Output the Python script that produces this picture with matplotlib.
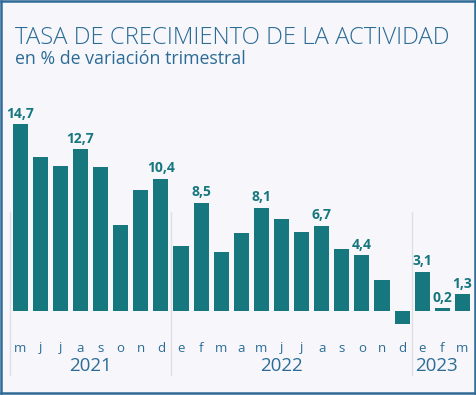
import matplotlib
matplotlib.use("Agg")
import matplotlib.pyplot as plt
from matplotlib.lines import Line2D

months = ["m", "j", "j", "a", "s", "o", "n", "d",
          "e", "f", "m", "a", "m", "j", "j", "a", "s", "o", "n", "d",
          "e", "f", "m"]
values = [14.7, 12.1, 11.4, 12.7, 11.3, 6.8, 9.5, 10.4,
          5.1, 8.5, 4.6, 6.1, 8.1, 7.2, 6.2, 6.7, 4.9, 4.4, 2.4, -1.0,
          3.1, 0.2, 1.3]
labeled = [0, 3, 7, 9, 12, 15, 17, 20, 21, 22]
years = ["2021", "2022", "2023"]
year_pos = [3.5, 13.0, 20.7]
separators = [-0.5, 7.5, 19.5]

BAR = "#16777f"
BLUE = "#2b6c96"
BG = "#f6f6fb"
FONT = ["Open Sans", "DejaVu Sans"]

W, H = 477, 395
fig = plt.figure(figsize=(W / 100, H / 100), dpi=100)
fig.patch.set_facecolor(BG)
ax = fig.add_axes([0, 0, 1, 1])
ax.set_facecolor("none")
ax.set_xlim(-1.005, 22.726)
ax.set_ylim(-6.604, 24.45)
ax.axis("off")

x = list(range(len(values)))
ax.bar(x, values, width=0.75, color=BAR, zorder=3)

for i in labeled:
    v = values[i]
    ax.annotate(f"{v:.1f}".replace(".", ","), (i, max(v, 0)),
                xytext=(0, 2.5), textcoords="offset points",
                ha="center", va="bottom", fontsize=10, fontweight="bold",
                color=BAR, family=FONT)

for s in separators:
    ax.axvline(s, ymin=1 - 375 / H, ymax=1 - 212 / H, color="#dedee4", lw=1, zorder=1)

trans = ax.get_xaxis_transform()
for i, m in enumerate(months):
    ax.text(i, 1 - 348 / H, m, transform=trans, ha="center", va="center",
            fontsize=9.5, color=BLUE, family=FONT)
for p, yl in zip(year_pos, years):
    ax.text(p, 1 - 366 / H, yl, transform=trans, ha="center", va="center",
            fontsize=13.5, color=BLUE, family=FONT)

fig.text(15 / W, 1 - 38 / H, "TASA DE CRECIMIENTO DE LA ACTIVIDAD",
         ha="left", va="center", fontsize=17.2, color=BLUE, family=FONT, fontweight="light")
fig.text(15 / W, 1 - 59 / H, "en % de variación trimestral",
         ha="left", va="center", fontsize=12.8, color=BLUE, family=FONT)

BORDER = "#2f6b96"
x0, x1 = 1 / W, 1 - 1.5 / W
y0, y1 = 2.5 / H, 1 - 1 / H
for xs, ys in [((x0, x1), (y0, y0)), ((x0, x1), (y1, y1)),
               ((x0, x0), (y0, y1)), ((x1, x1), (y0, y1))]:
    fig.add_artist(Line2D(xs, ys, transform=fig.transFigure, color=BORDER, lw=1.8))

fig.savefig("out.png", dpi=100, facecolor=BG)
